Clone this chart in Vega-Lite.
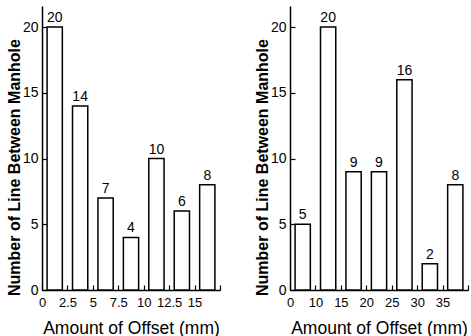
{
  "$schema": "https://vega.github.io/schema/vega-lite/v6.json",
  "padding": {"left": 6, "top": 6, "right": 0, "bottom": 0},
  "background": "white",
  "spacing": 32,
  "config": {
    "view": {"stroke": null},
    "font": "Liberation Sans",
    "axis": {
      "domainColor": "black",
      "domainWidth": 1.5,
      "tickColor": "black",
      "tickWidth": 1.2,
      "labelColor": "black",
      "titleColor": "black",
      "labelFont": "Liberation Sans",
      "titleFont": "Liberation Sans",
      "grid": false
    }
  },
  "datasets": {
    "left": [
      {"bin": "0", "count": 20},
      {"bin": "2.5", "count": 14},
      {"bin": "5", "count": 7},
      {"bin": "7.5", "count": 4},
      {"bin": "10", "count": 10},
      {"bin": "12.5", "count": 6},
      {"bin": "15", "count": 8}
    ],
    "right": [
      {"bin": "0", "count": 5},
      {"bin": "10", "count": 20},
      {"bin": "15", "count": 9},
      {"bin": "20", "count": 9},
      {"bin": "25", "count": 16},
      {"bin": "30", "count": 2},
      {"bin": "35", "count": 8}
    ]
  },
  "hconcat": [
    {
      "width": 178,
      "height": 284,
      "data": {"name": "left"},
      "encoding": {
        "x": {
          "field": "bin", "type": "ordinal", "sort": null,
          "scale": {"paddingInner": 0, "paddingOuter": 0},
          "axis": {"title": "Amount of Offset  (mm)", "tickBand": "extent", "labelOffset": -12.7, "labelAngle": 0, "tickSize": -5, "labelPadding": 11, "labelFontSize": 13, "titleFontSize": 17.5, "titlePadding": 10, "titleFontWeight": "normal"}
        },
        "y": {
          "field": "count", "type": "quantitative",
          "scale": {"domain": [0, 21.6], "nice": false},
          "axis": {"title": "Number of Line Between Manhole", "values": [0, 5, 10, 15, 20], "tickSize": -5, "labelPadding": 9, "labelFontSize": 14, "titleFontSize": 16, "titleFontWeight": "bold", "titlePadding": 0, "titleY": 161}
        }
      },
      "layer": [
        {"mark": {"type": "bar", "fill": "white", "stroke": "black", "strokeWidth": 1.5, "width": {"band": 0.6}}},
        {"mark": {"type": "text", "dy": -9, "fontSize": 14, "color": "black", "font": "Liberation Sans"}, "encoding": {"text": {"field": "count"}}}
      ]
    },
    {
      "width": 178,
      "height": 284,
      "data": {"name": "right"},
      "encoding": {
        "x": {
          "field": "bin", "type": "ordinal", "sort": null,
          "scale": {"paddingInner": 0, "paddingOuter": 0},
          "axis": {"title": "Amount of Offset  (mm)", "tickBand": "extent", "labelOffset": -12.7, "labelAngle": 0, "tickSize": -5, "labelPadding": 11, "labelFontSize": 13, "titleFontSize": 17.5, "titlePadding": 10, "titleFontWeight": "normal"}
        },
        "y": {
          "field": "count", "type": "quantitative",
          "scale": {"domain": [0, 21.6], "nice": false},
          "axis": {"title": "Number of Line Between Manhole", "values": [0, 5, 10, 15, 20], "tickSize": -5, "labelPadding": 9, "labelFontSize": 14, "titleFontSize": 16, "titleFontWeight": "bold", "titlePadding": 0, "titleY": 161}
        }
      },
      "layer": [
        {"mark": {"type": "bar", "fill": "white", "stroke": "black", "strokeWidth": 1.5, "width": {"band": 0.6}}},
        {"mark": {"type": "text", "dy": -9, "fontSize": 14, "color": "black", "font": "Liberation Sans"}, "encoding": {"text": {"field": "count"}}}
      ]
    }
  ]
}
